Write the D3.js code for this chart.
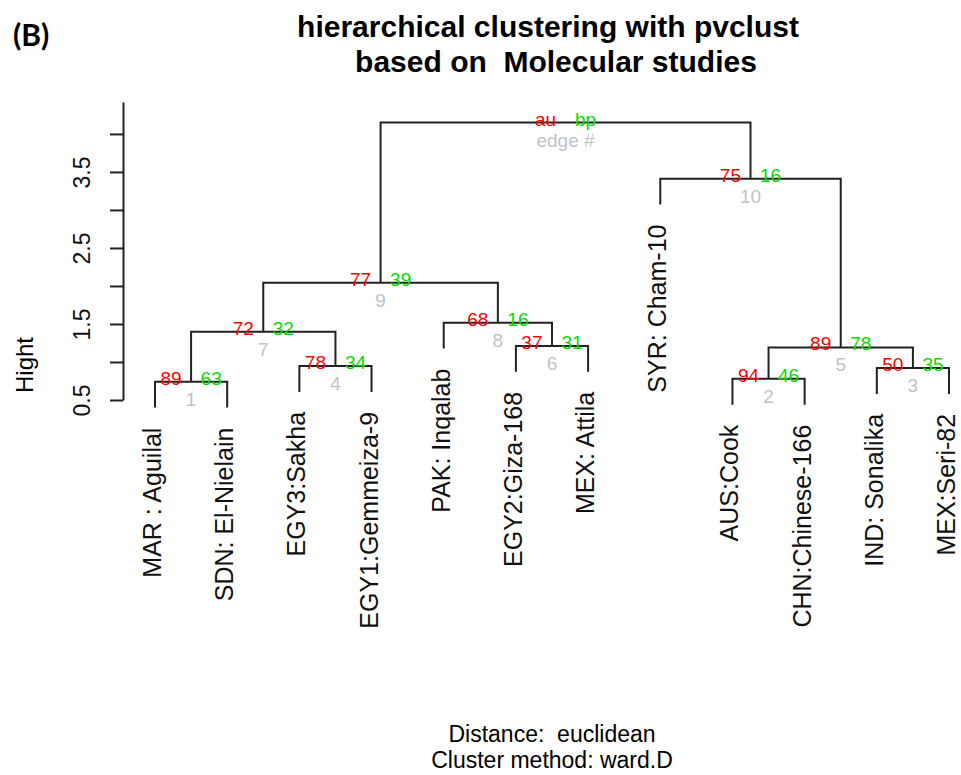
<!DOCTYPE html>
<html>
<head>
<meta charset="utf-8">
<script src="https://cdn.jsdelivr.net/npm/d3@7"></script>
<style>
  body { margin: 0; background: #fff; }
  text { font-family: "Liberation Sans", Arial, sans-serif; }
</style>
</head>
<body>
<svg id="chart" width="961" height="775"></svg>
<script>
// leaves in plotting order
const leafLabels = ["MAR : Aguilal", "SDN: El-Nielain", "EGY3:Sakha", "EGY1:Gemmeiza-9",
  "PAK: Inqalab", "EGY2:Giza-168", "MEX: Attila", "SYR: Cham-10",
  "AUS:Cook", "CHN:Chinese-166", "IND: Sonalika", "MEX:Seri-82"];

// hclust-style merge table (negative = leaf index, positive = earlier merge)
const mergeLeft  = [-1, -9, -11, -3, 2, -6, 1, -5, 7, -8, 9];
const mergeRight = [-2, -10, -12, -4, 3, -7, 4, 6, 8, 5, 10];
const heights    = [0.741, 0.779, 0.921, 0.947, 1.191, 1.211, 1.399, 1.517, 2.043, 3.412, 4.149];

// pvclust values per edge (root shows the legend instead)
const auValues = [89, 94, 50, 78, 89, 37, 72, 68, 77, 75];
const bpValues = [63, 46, 35, 34, 78, 31, 32, 16, 39, 16];

const yTicks = [0.5, 1, 1.5, 2, 2.5, 3, 3.5, 4];
const yTickLabels = ["0.5", "", "1.5", "", "2.5", "", "3.5", ""];

const svg = d3.select("#chart");
const lineColor = "#222";

const x = d3.scaleLinear().domain([1, leafLabels.length]).range([155, 949]);
const y = d3.scaleLinear().domain([0.5, 4.42]).range([400, 102]);

const hang = 0.1 * (d3.max(heights) - d3.min(heights));

// Titles
svg.append("text")
  .attr("x", 13).attr("y", 46)
  .style("font-family", "Lato, 'Open Sans', sans-serif")
  .attr("font-weight", "bold").attr("font-size", 30)
  .text("(B)");

svg.append("text")
  .attr("x", 548).attr("y", 37)
  .attr("text-anchor", "middle").attr("font-weight", "bold").attr("font-size", 30)
  .text("hierarchical clustering with pvclust");
svg.append("text")
  .attr("x", 556).attr("y", 72)
  .attr("text-anchor", "middle").attr("font-weight", "bold").attr("font-size", 30)
  .style("white-space", "pre")
  .text("based on  Molecular studies");

svg.append("text")
  .attr("x", 552).attr("y", 742)
  .attr("text-anchor", "middle").attr("font-size", 23)
  .style("white-space", "pre")
  .text("Distance:  euclidean");
svg.append("text")
  .attr("x", 552).attr("y", 768)
  .attr("text-anchor", "middle").attr("font-size", 23)
  .text("Cluster method: ward.D");

// Y axis
const yAxis = d3.axisLeft(y)
  .tickValues(yTicks)
  .tickSize(13)
  .tickSizeOuter(0)
  .tickFormat((d, i) => yTickLabels[i]);

const gy = svg.append("g")
  .attr("transform", "translate(123,0)")
  .call(yAxis);
gy.select(".domain").attr("stroke", lineColor).attr("stroke-width", 2);
gy.selectAll(".tick line").attr("stroke", lineColor).attr("stroke-width", 2);
gy.selectAll(".tick text")
  .attr("transform", "rotate(-90)")
  .attr("x", 0).attr("y", -33).attr("dy", 0)
  .attr("text-anchor", "middle")
  .attr("font-size", 23)
  .attr("fill", "#111")
  .style("font-family", "'Liberation Sans', Arial, sans-serif");

svg.append("text")
  .attr("transform", "translate(33,365) rotate(-90)")
  .attr("text-anchor", "middle").attr("font-size", 24)
  .text("Hight");

// Tree layout
const nodeX = [];
function childX(c) { return c < 0 ? x(-c) : nodeX[c - 1]; }
function childY(c, parentH) { return c < 0 ? y(parentH - hang) : y(heights[c - 1]); }

heights.forEach((h, i) => {
  nodeX[i] = (childX(mergeLeft[i]) + childX(mergeRight[i])) / 2;
});

const tree = svg.append("g");
heights.forEach((h, i) => {
  const l = mergeLeft[i], r = mergeRight[i];
  const p = d3.path();
  p.moveTo(childX(l), childY(l, h));
  p.lineTo(childX(l), y(h));
  p.lineTo(childX(r), y(h));
  p.lineTo(childX(r), childY(r, h));
  tree.append("path")
    .attr("d", p.toString())
    .attr("fill", "none")
    .attr("stroke", lineColor)
    .attr("stroke-width", 2);
});

// Leaf labels
const leafBottom = [];
heights.forEach((h, i) => {
  [mergeLeft[i], mergeRight[i]].forEach(c => {
    if (c < 0) leafBottom[-c - 1] = y(h - hang);
  });
});

svg.append("g").selectAll("text")
  .data(leafLabels)
  .enter()
  .append("text")
    .attr("transform", (d, i) => "translate(" + x(i + 1) + "," + (leafBottom[i] + 20) + ") rotate(-90)")
    .attr("dy", 6)
    .attr("text-anchor", "end")
    .attr("font-size", 25)
    .attr("fill", "#111")
    .text(d => d);

// au / bp / edge labels
const labels = svg.append("g").attr("font-size", 19);
heights.forEach((h, i) => {
  const isRoot = i === heights.length - 1;
  labels.append("text")
    .attr("x", nodeX[i] - 9.5).attr("y", y(h) + 3)
    .attr("text-anchor", "end").attr("fill", "#ff0000")
    .text(isRoot ? "au" : auValues[i]);
  labels.append("text")
    .attr("x", nodeX[i] + 9.5).attr("y", y(h) + 3)
    .attr("text-anchor", "start").attr("fill", "#00dd00")
    .text(isRoot ? "bp" : bpValues[i]);
  labels.append("text")
    .attr("x", nodeX[i]).attr("y", y(h) + 24)
    .attr("text-anchor", "middle").attr("fill", "#bfc3c9")
    .text(isRoot ? "edge #" : i + 1);
});
</script>
</body>
</html>
